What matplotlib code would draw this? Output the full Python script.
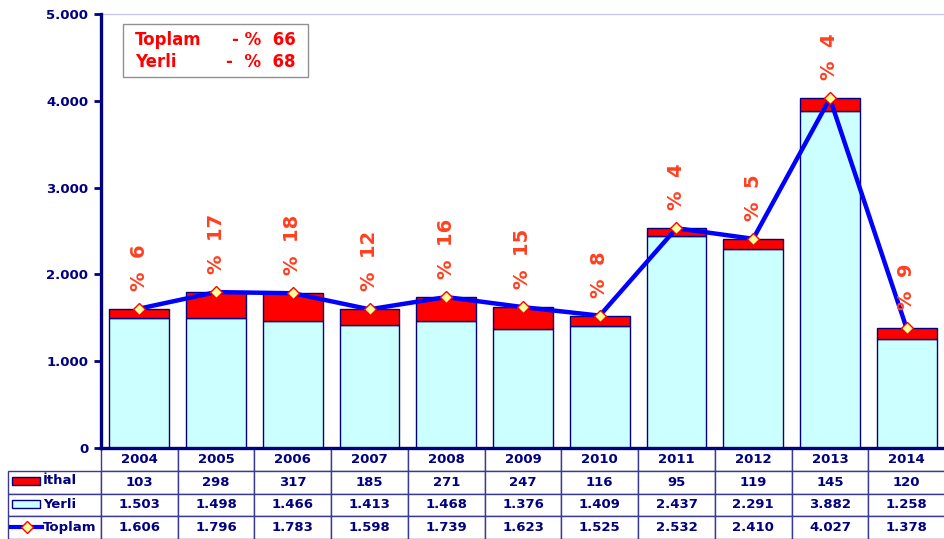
import matplotlib
matplotlib.use("Agg")
import matplotlib.pyplot as plt
from matplotlib.patches import Rectangle
from matplotlib.lines import Line2D

years = ["2004", "2005", "2006", "2007", "2008", "2009", "2010", "2011", "2012", "2013", "2014"]
ithal = [103, 298, 317, 185, 271, 247, 116, 95, 119, 145, 120]
yerli = [1503, 1498, 1466, 1413, 1468, 1376, 1409, 2437, 2291, 3882, 1258]
toplam = [1606, 1796, 1783, 1598, 1739, 1623, 1525, 2532, 2410, 4027, 1378]
pct = [6, 17, 18, 12, 16, 15, 8, 4, 5, 4, 9]
box_lines = [("Toplam", "- %  66"), ("Yerli", "-  %  68")]

NAVY = "#000080"
RED = "#FF0000"
CYAN = "#CCFFFF"
BLUE = "#0000FF"
LBL = "#FF4020"

plt.rcParams["font.family"] = ["DejaVu Sans"]

W, H = 945, 539
fig = plt.figure(figsize=(W / 100, H / 100), dpi=100)
ax = fig.add_axes([101 / W, 91 / H, 844 / W, 434 / H])

x = list(range(len(years)))
ax.bar(x, yerli, width=0.78, color=CYAN, edgecolor=NAVY, linewidth=1, zorder=2)
ax.bar(x, ithal, width=0.78, bottom=yerli, color=RED, edgecolor=NAVY, linewidth=1, zorder=2)
ax.plot(x, toplam, color=BLUE, lw=3.2, marker="D", markersize=6,
        markerfacecolor="#FFFF99", markeredgecolor=RED, markeredgewidth=1, zorder=4)

for xi, t, p in zip(x, toplam, pct):
    ax.annotate(f"%  {p}", (xi, t), xytext=(0, 13), textcoords="offset points",
                rotation=90, ha="center", va="bottom", color=LBL,
                fontsize=14, fontweight="bold", zorder=5)

ax.set_xlim(-0.5, len(years) - 0.5)
ax.set_ylim(0, 5000)
ax.set_yticks(range(0, 5001, 1000))
ax.set_yticklabels([f"{v:,.0f}".replace(",", ".") for v in range(0, 5001, 1000)],
                   color=NAVY, fontsize=9.5, fontweight="bold")
ax.tick_params(axis="y", direction="out", length=5, width=2, color=NAVY, pad=4)
ax.set_xticks([])
for s in ["left", "bottom"]:
    ax.spines[s].set_color(NAVY)
    ax.spines[s].set_linewidth(2.4)
    ax.spines[s].set_zorder(6)
ax.spines["top"].set_color("#C8C8E8")
ax.spines["top"].set_linewidth(1)
ax.spines["right"].set_visible(False)

# legend-like annotation box
ax.add_patch(Rectangle((123 / W, (H - 77) / H), 185 / W, 53 / H, transform=fig.transFigure,
                       facecolor="white", edgecolor="#909090", lw=1, zorder=7))
for i, (a, b) in enumerate(box_lines):
    yy = (H - 40 - 22 * i) / H
    fig.text(135 / W, yy, a, color=RED, fontsize=12, fontweight="bold", va="center", ha="left", zorder=8)
    fig.text(296 / W, yy, b, color=RED, fontsize=12, fontweight="bold", va="center", ha="right", zorder=8)

# data table
fmt = lambda v: f"{v:,.0f}".replace(",", ".")
cell_text = [[""] + [str(v) for v in ithal],
             [""] + [fmt(v) for v in yerli],
             [""] + [fmt(v) for v in toplam]]
lab_w = 93 / 844
col_w = 1 / len(years)
tbl = ax.table(cellText=cell_text, colLabels=[""] + years,
               colWidths=[lab_w] + [col_w] * len(years),
               cellLoc="center", colLoc="center",
               bbox=[-lab_w, -91 / 434, 1 + lab_w, 91 / 434])
tbl.auto_set_font_size(False)
tbl.set_fontsize(9.5)
for (r, c), cell in tbl.get_celld().items():
    cell.set_edgecolor("#3A3A95")
    cell.set_linewidth(1)
    cell.get_text().set_color(NAVY)
    cell.get_text().set_fontweight("bold")
    if r == 0 and c == 0:
        cell.set_edgecolor("none")
        cell.set_facecolor("none")

# row labels with swatches
row_y = [481, 504, 527]
names = ["İthal", "Yerli", "Toplam"]
for i, (ry, nm) in enumerate(zip(row_y, names)):
    yy = (H - ry) / H
    if i < 2:
        fig.patches.append(Rectangle((12 / W, (H - ry - 4) / H), 28 / W, 8 / H,
                                     transform=fig.transFigure,
                                     facecolor=[RED, CYAN][i], edgecolor=NAVY, lw=1, zorder=9))
    else:
        fig.lines.append(Line2D([11 / W, 42 / W], [yy, yy], transform=fig.transFigure,
                                color=BLUE, lw=3, zorder=9))
        fig.lines.append(Line2D([27 / W], [yy], transform=fig.transFigure, marker="D",
                                markersize=6, markerfacecolor="#FFFF99",
                                markeredgecolor=RED, markeredgewidth=1, zorder=10))
    fig.text(43 / W, yy, nm, color=NAVY, fontsize=9.5, fontweight="bold", va="center", ha="left")

fig.savefig("out.png", dpi=100)
